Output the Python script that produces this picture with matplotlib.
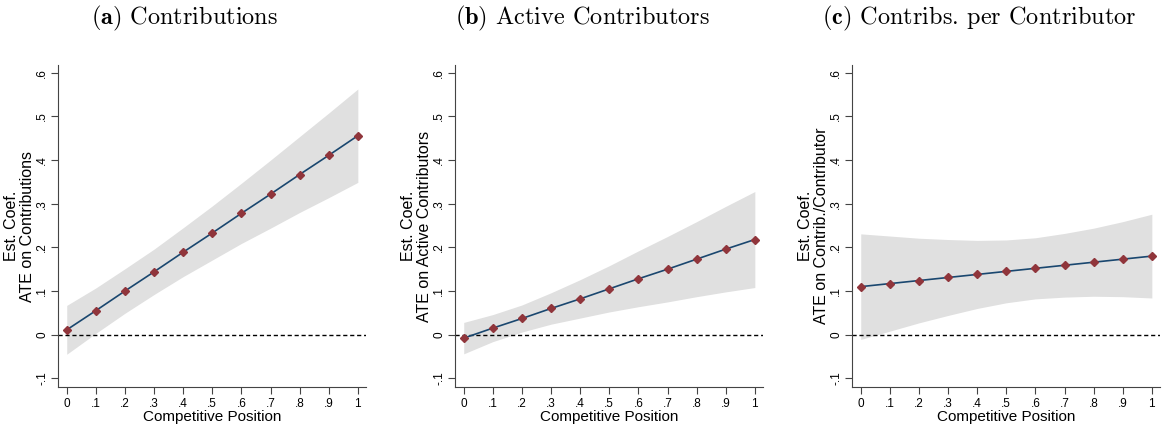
import numpy as np
import matplotlib
matplotlib.use("Agg")
import matplotlib.pyplot as plt

plt.rcParams['font.family'] = ['Liberation Sans', 'DejaVu Sans']
plt.rcParams['mathtext.fontset'] = 'cm'

# competitive position grid
position = [0, .1, .2, .3, .4, .5, .6, .7, .8, .9, 1]

# (a) contributions
est_a = [0.011, 0.055, 0.100, 0.144, 0.189, 0.233, 0.278, 0.322, 0.367, 0.411, 0.456]
lo_a = [-0.045, 0.003, 0.049, 0.092, 0.133, 0.171, 0.209, 0.244, 0.280, 0.314, 0.349]
hi_a = [0.067, 0.107, 0.151, 0.196, 0.245, 0.295, 0.347, 0.400, 0.454, 0.508, 0.563]

# (b) active contributors
est_b = [-0.008, 0.015, 0.037, 0.060, 0.082, 0.105, 0.128, 0.150, 0.173, 0.196, 0.218]
lo_b = [-0.044, -0.016, 0.006, 0.024, 0.038, 0.052, 0.064, 0.075, 0.087, 0.098, 0.108]
hi_b = [0.028, 0.046, 0.068, 0.096, 0.126, 0.158, 0.192, 0.225, 0.259, 0.294, 0.328]

# (c) contribs per contributor
est_c = [0.110, 0.117, 0.124, 0.131, 0.138, 0.145, 0.152, 0.159, 0.166, 0.173, 0.180]
lo_c = [-0.011, 0.008, 0.027, 0.044, 0.060, 0.073, 0.082, 0.086, 0.088, 0.087, 0.084]
hi_c = [0.231, 0.226, 0.221, 0.218, 0.216, 0.217, 0.222, 0.232, 0.244, 0.259, 0.276]

titles = [r'$\mathbf{(a)}$ Contributions', r'$\mathbf{(b)}$ Active Contributors',
          r'$\mathbf{(c)}$ Contribs. per Contributor']
ylabels = ['Est. Coef.\nATE on Contributions', 'Est. Coef.\nATE on Active Contributors',
           'Est. Coef.\nATE on Contrib./Contributor']
xticks = [0, .1, .2, .3, .4, .5, .6, .7, .8, .9, 1]
xticklabels = ['0', '.1', '.2', '.3', '.4', '.5', '.6', '.7', '.8', '.9', '1']
yticks = [-.1, 0, .1, .2, .3, .4, .5, .6]
yticklabels = ['-.1', '0', '.1', '.2', '.3', '.4', '.5', '.6']

panels = [(est_a, lo_a, hi_a), (est_b, lo_b, hi_b), (est_c, lo_c, hi_c)]
lefts = [58, 455, 852]

fig = plt.figure(figsize=(11.63, 4.30), dpi=100)

for i, (est, lo, hi) in enumerate(panels):
    ax = fig.add_axes([lefts[i] / 1163, 43 / 430, 308 / 1163, 322 / 430])
    ax.fill_between(position, lo, hi, color='#e0e0e0', linewidth=0)
    ax.axhline(0, color='black', linestyle=(0, (3, 2)), linewidth=1)
    ax.plot(position, est, color='#1a476f', linewidth=1.2, marker='D',
            markersize=4, markerfacecolor='#90353b', markeredgecolor='#90353b')
    ax.set_xlim(-0.03, 1.028)
    ax.set_ylim(-0.12, 0.618)
    ax.set_xticks(xticks)
    ax.set_xticklabels(xticklabels, fontsize=8.5)
    ax.set_yticks(yticks)
    ax.set_yticklabels(yticklabels, fontsize=8.5, rotation=90, va='center')
    for s in ['top', 'right']:
        ax.spines[s].set_visible(False)
    for s in ['left', 'bottom']:
        ax.spines[s].set_color('#444444')
    ax.tick_params(length=5, color='#444444', width=0.8, pad=3)
    ax.tick_params(axis='y', pad=2)
    ax.set_xlabel('Competitive Position', fontsize=11, labelpad=0)
    ax.set_ylabel(ylabels[i], fontsize=11.5, labelpad=1, linespacing=1.05)
    fig.text((lefts[i] + 127) / 1163, 1 - 18 / 430, titles[i], ha='center', va='center',
             fontsize=17.5, family='cmr10')

fig.savefig('out.png', dpi=100)
